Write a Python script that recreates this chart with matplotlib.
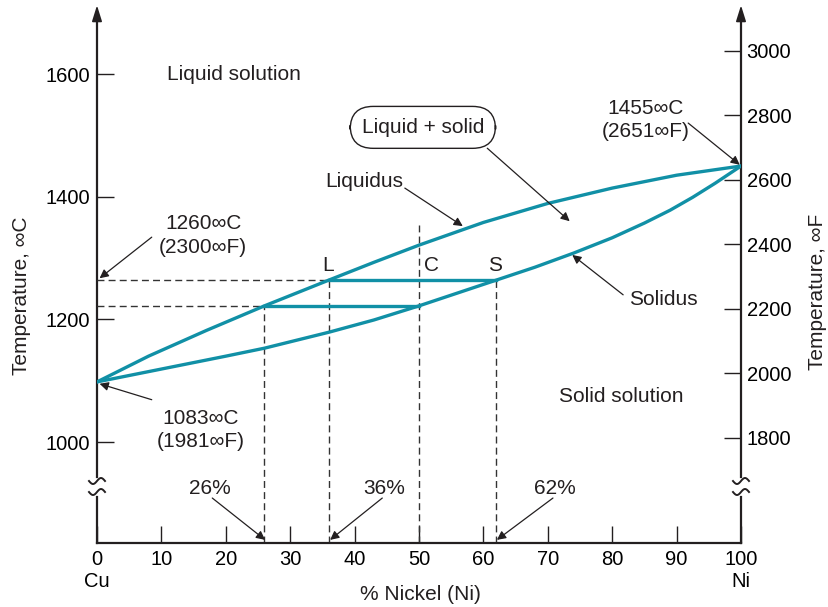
import numpy as np
import matplotlib
matplotlib.use("Agg")
import matplotlib.pyplot as plt

plt.rcParams['font.family'] = ['Liberation Sans', 'DejaVu Sans']

# composition (% Ni) and temperature (deg C)
liq_x = [0, 8, 17, 26, 36, 43, 50, 60, 70, 80, 90, 100]
liq_t = [1098, 1140, 1182, 1222, 1264, 1293, 1321, 1358, 1389, 1414, 1435, 1450]
sol_x = [0, 10, 20, 26, 36, 43, 50, 62, 68, 74, 80, 85, 89, 92.5, 96, 100]
sol_t = [1098, 1119, 1140, 1153, 1179, 1199, 1222, 1264, 1285, 1308, 1333, 1357, 1378, 1399, 1422, 1450]

tie_x = [[36, 62], [26, 50]]
tie_t = [1264, 1222]

c_ticks = [1000, 1200, 1400, 1600]
f_ticks = [1800, 2000, 2200, 2400, 2600, 2800, 3000]
x_ticks = list(range(0, 101, 10))
x_labels = ["0\nCu"] + [str(v) for v in x_ticks[1:-1]] + ["100\nNi"]

teal = "#1190a6"
ink = "#231f20"
fs = 15

fig = plt.figure(figsize=(8.29, 6.07), dpi=100)
ax = fig.add_axes([97/829, 1-543/607, 644/829, 535/607])
ax.set_xlim(0, 100)
ax.set_ylim(835.4, 1707.6)

ax2 = ax.twinx()
ax2.set_ylim(1474.4, 3133.3)

for a in (ax, ax2):
    for s in a.spines.values():
        s.set_visible(False)
ax.spines['bottom'].set_visible(True)
ax.spines['bottom'].set_linewidth(1.6)
ax.spines['bottom'].set_color(ink)

ax.set_xticks(x_ticks)
ax.set_xticklabels(x_labels)
ax.set_yticks(c_ticks)
ax.tick_params(axis='both', direction='in', length=12, width=1, color=ink,
               labelsize=fs - 0.5, pad=5, top=False, right=False)
ax2.set_yticks(f_ticks)
ax2.tick_params(axis='y', direction='in', length=12, width=1, color=ink,
                labelsize=fs - 0.5, pad=4, left=False, right=True)

# vertical axis lines with break marks
ybreak_top = (543-477)/535
ybreak_bot = (543-497)/535
for xa in (0, 1):
    ax.plot([xa, xa], [ybreak_top, 0.98], color=ink, lw=1.6, transform=ax.transAxes, clip_on=False)
    ax.plot([xa, xa], [0, ybreak_bot], color=ink, lw=1.6, transform=ax.transAxes, clip_on=False)
    ax.annotate('', xy=(xa, 1.005), xytext=(xa, 0.97), xycoords='axes fraction',
                arrowprops=dict(arrowstyle='-|>,head_width=0.25,head_length=0.8', color=ink,
                                lw=1.2, mutation_scale=12, shrinkA=0, shrinkB=0))
    for yc in (481, 492):
        t = np.linspace(-1, 1, 30)
        px = t * 8
        py = -3 * np.sin(np.pi * t)
        ax.plot(xa + px/644, (543 - yc - py)/535, color=ink, lw=1.4,
                transform=ax.transAxes, clip_on=False)

# dashed guide lines
dash = dict(color="#333333", lw=1, dashes=(5, 3))
ax.plot([0, 36], [1264, 1264], **dash)
ax.plot([0, 26], [1222, 1222], **dash)
ax.plot([26, 26], [835.4, 1222], **dash)
ax.plot([36, 36], [835.4, 1264], **dash)
ax.plot([50, 50], [835.4, 1354], **dash)
ax.plot([62, 62], [835.4, 1264], **dash)

# phase boundaries and tie lines
ax.plot(liq_x, liq_t, color=teal, lw=2.4, solid_capstyle='round', solid_joinstyle='round')
ax.plot(sol_x, sol_t, color=teal, lw=2.4, solid_capstyle='round', solid_joinstyle='round')
for xs, tt in zip(tie_x, tie_t):
    ax.plot(xs, [tt, tt], color=teal, lw=2.4)

arr = dict(arrowstyle='-|>', color=ink, lw=0.9, mutation_scale=13, shrinkA=0, shrinkB=0)
txt = dict(fontsize=fs, color=ink, ha='center', va='center')

ax.text(21.3, 1600, "Liquid solution", **txt)
ax.text(81.4, 1075, "Solid solution", **txt)
ax.text(41.5, 1424, "Liquidus", **txt)
ax.annotate('', xy=(56.8, 1352), xytext=(47.8, 1414), arrowprops=arr)
ax.text(88.0, 1233, "Solidus", **txt)
ax.annotate('', xy=(73.8, 1305), xytext=(81.7, 1240), arrowprops=arr)
ax.text(50.6, 1513, "Liquid + solid", bbox=dict(boxstyle="round,pad=0.55,rounding_size=1.1",
                                                fc='white', ec=ink, lw=1), **txt)
ax.annotate('', xy=(73.4, 1360), xytext=(60.6, 1479), arrowprops=arr)

ax.text(85.2, 1525, "1455∞C\n(2651∞F)", linespacing=1.3, **txt)
ax.annotate('', xy=(99.8, 1452), xytext=(91.8, 1520), arrowprops=arr)
ax.text(16.5, 1337, "1260∞C\n(2300∞F)", linespacing=1.3, **txt)
ax.annotate('', xy=(0.4, 1267), xytext=(8.5, 1334), arrowprops=arr)
ax.text(16.1, 1020, "1083∞C\n(1981∞F)", linespacing=1.3, **txt)
ax.annotate('', xy=(0.4, 1095), xytext=(8.5, 1069), arrowprops=arr)

ax.text(35.9, 1288, "L", **txt)
ax.text(52.0, 1288, "C", **txt)
ax.text(61.8, 1288, "S", **txt)

for lab, tx, tip in [("26%", 17.5, 26.1), ("36%", 44.6, 36.2), ("62%", 71.1, 62.1)]:
    ax.text(tx, 925, lab, **txt)
    ax.annotate('', xy=(tip, 840.5), xytext=(tx + (0.4 if tip > tx else -0.3), 908.7),
                arrowprops=arr)

fig.text(420/829, 1-595/607, "% Nickel (Ni)", fontsize=fs, color=ink, ha='center', va='center')
fig.text(22/829, 1-296/607, "Temperature, ∞C", fontsize=fs, color=ink, ha='center',
         va='center', rotation=90)
fig.text(818/829, 1-292/607, "Temperature, ∞F", fontsize=fs, color=ink, ha='center',
         va='center', rotation=90)

fig.savefig("out.png", dpi=100)
